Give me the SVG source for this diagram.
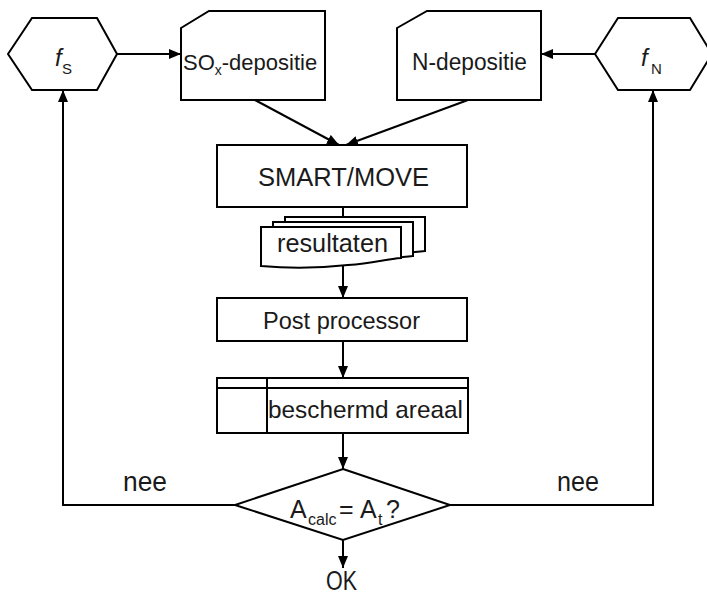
<svg xmlns="http://www.w3.org/2000/svg" width="707" height="597" viewBox="0 0 707 597">
<style>
.s{fill:#fff;stroke:#000;stroke-width:2}
.c{fill:none;stroke:#000;stroke-width:2}
text{font-family:"Liberation Sans",Arial,sans-serif;fill:#1a1a1a}
</style>
<defs>
<marker id="ah" markerUnits="userSpaceOnUse" markerWidth="13" markerHeight="11" refX="12" refY="5" orient="auto">
<path d="M0,0 L12,5 L0,10 Z" fill="#000"/>
</marker>
</defs>
<rect width="707" height="597" fill="#fff"/>
<g id="connectors">
<line class="c" x1="117" y1="54" x2="181" y2="54" marker-end="url(#ah)"/>
<line class="c" x1="595" y1="54" x2="541" y2="54" marker-end="url(#ah)"/>
<line class="c" x1="255" y1="100" x2="339" y2="145" marker-end="url(#ah)"/>
<line class="c" x1="468" y1="100" x2="346" y2="145" marker-end="url(#ah)"/>
<line class="c" x1="343" y1="207" x2="343" y2="218"/>
<line class="c" x1="343" y1="265" x2="343" y2="298" marker-end="url(#ah)"/>
<line class="c" x1="343" y1="341" x2="343" y2="378" marker-end="url(#ah)"/>
<line class="c" x1="343" y1="433" x2="343" y2="469" marker-end="url(#ah)"/>
<line class="c" x1="343" y1="540" x2="343" y2="568" marker-end="url(#ah)"/>
<polyline class="c" points="235,505 63,505 63,90" marker-end="url(#ah)"/>
<polyline class="c" points="450,505 653,505 653,90" marker-end="url(#ah)"/>
</g>
<g id="fS">
<polygon class="s" points="8,54 32,18 97,18 117,54 97,90 32,90"/>
<text x="55" y="66" font-size="24" font-style="italic">f</text>
<text x="62" y="74" font-size="15">S</text>
</g>
<g id="fN">
<polygon class="s" points="595,54 618,18 690,18 712,54 690,90 618,90"/>
<text x="641" y="66" font-size="24" font-style="italic">f</text>
<text x="651" y="74" font-size="15">N</text>
</g>
<g id="sox">
<path class="s" d="M181,28 L209,11 H325 V100 H181 Z"/>
<text x="183" y="70" font-size="22">SO<tspan font-size="14" dy="5">x</tspan><tspan dy="-5">-depositie</tspan></text>
</g>
<g id="ndep">
<path class="s" d="M397,28 L427,11 H541 V100 H397 Z"/>
<text x="469.5" y="70" font-size="23" text-anchor="middle" textLength="115" lengthAdjust="spacingAndGlyphs">N-depositie</text>
</g>
<g id="smart">
<rect class="s" x="217" y="145" width="250" height="62"/>
<text x="343.5" y="186" font-size="25" text-anchor="middle" textLength="171" lengthAdjust="spacingAndGlyphs">SMART/MOVE</text>
</g>
<g id="resultaten">
<path class="s" d="M285,217 H425 V251 C410,252 398,255 372,258 C345,261 318,262 285,258 Z"/>
<path class="s" d="M273,222 H413 V256 C398,257 386,260 360,263 C333,266 306,267 273,263 Z"/>
<path class="s" d="M261,227 H401 V258 C386,259 374,263 348,265 C321,268 294,269 261,266 Z"/>
<text x="277" y="252" font-size="25" textLength="111" lengthAdjust="spacingAndGlyphs">resultaten</text>
</g>
<g id="post">
<rect class="s" x="217" y="298" width="250" height="43"/>
<text x="263" y="329" font-size="23.5" textLength="157" lengthAdjust="spacingAndGlyphs">Post processor</text>
</g>
<g id="areaal">
<rect class="s" x="217" y="378" width="251" height="55"/>
<line class="c" x1="217" y1="388" x2="468" y2="388"/>
<line class="c" x1="267" y1="378" x2="267" y2="433"/>
<text x="268" y="418" font-size="24.4" textLength="195" lengthAdjust="spacingAndGlyphs">beschermd areaal</text>
</g>
<g id="decision">
<polygon class="s" points="343,469 450,505 343,540 235,505"/>
<text y="518" font-size="25"><tspan x="290">A</tspan><tspan x="308" y="525" font-size="16">calc</tspan><tspan x="339" y="518">=</tspan><tspan x="360">A</tspan><tspan x="378" y="525" font-size="16">t</tspan><tspan x="386" y="518">?</tspan></text>
</g>
<g id="labels">
<text x="123" y="491" font-size="27" textLength="44" lengthAdjust="spacingAndGlyphs">nee</text>
<text x="557" y="491" font-size="27" textLength="42" lengthAdjust="spacingAndGlyphs">nee</text>
<text x="326" y="590" font-size="27" textLength="31" lengthAdjust="spacingAndGlyphs">OK</text>
</g>
</svg>
